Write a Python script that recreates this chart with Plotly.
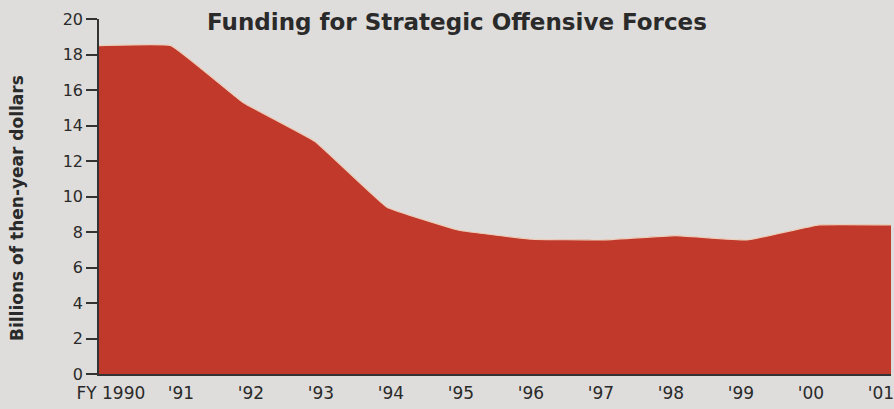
import plotly.graph_objects as go

years = [1990, 1991, 1992, 1993, 1994, 1995, 1996, 1997, 1998, 1999, 2000, 2001]
funding = [18.5, 18.5, 15.3, 13.1, 9.4, 8.1, 7.6, 7.55, 7.8, 7.55, 8.4, 8.4]
tick_labels = ["FY 1990", "'91", "'92", "'93", "'94", "'95", "'96", "'97", "'98", "'99", "'00", "'01"]
y_ticks = [0, 2, 4, 6, 8, 10, 12, 14, 16, 18, 20]

title_text = "Funding for Strategic Offensive Forces"
y_title = "Billions of then-year dollars"

RED = "rgb(192,57,42)"
BG = "rgb(222,221,219)"
TXT = "#2a2a2a"

fig = go.Figure()
fig.add_trace(go.Scatter(
    x=years, y=funding, mode="lines", fill="tozeroy",
    fillcolor=RED,
    line=dict(color="rgb(236,205,185)", width=1.2, shape="spline", smoothing=0.25),
    hoverinfo="x+y", showlegend=False,
))
# carrier for the printed year labels (the printed labels sit slightly
# narrower than the plotted years in the original)
fig.add_trace(go.Scatter(
    x=years, y=funding, xaxis="x2", mode="none", hoverinfo="skip", showlegend=False,
))

fig.update_layout(
    width=894, height=409,
    margin=dict(l=99, r=3, t=19, b=35, autoexpand=False),
    paper_bgcolor=BG, plot_bgcolor=BG,
    font=dict(family="DejaVu Sans", size=18, color=TXT),
    xaxis=dict(
        range=[1990, 2001], showticklabels=False,
        showgrid=False, zeroline=False, showline=True, linecolor="#333", linewidth=1.5,
        ticks="", automargin=False,
    ),
    xaxis2=dict(
        overlaying="x", side="bottom", range=[1989.83, 2001.143],
        tickmode="array", tickvals=years, ticktext=tick_labels,
        showgrid=False, zeroline=False, showline=False, ticks="",
        tickfont=dict(size=17, color=TXT), automargin=False,
        ticklabeloverflow="allow", ticklabelstandoff=7,
    ),
    yaxis=dict(
        range=[0, 20], tickmode="array", tickvals=y_ticks,
        showgrid=False, zeroline=False, showline=True, linecolor="#333", linewidth=1.5,
        ticks="outside", ticklen=11, tickcolor="#333", tickwidth=1.5,
        tickfont=dict(size=16, color=TXT), automargin=False,
        ticklabeloverflow="allow",
    ),
    annotations=[
        dict(text="<b>" + title_text + "</b>", xref="paper", yref="paper",
             x=0.452, y=0.9915, xanchor="center", yanchor="middle", showarrow=False,
             font=dict(family="DejaVu Sans", size=23, color=TXT)),
        dict(text="<b>" + y_title + "</b>", xref="paper", yref="paper",
             x=-0.1035, y=0.4676, xanchor="center", yanchor="middle", showarrow=False,
             textangle=-90, font=dict(family="DejaVu Sans", size=17, color=TXT)),
    ],
)

fig.write_html(
    "out.html",
    config={"displayModeBar": False},
    post_script="document.body.style.margin='0';document.body.style.background='rgb(222,221,219)';",
)
